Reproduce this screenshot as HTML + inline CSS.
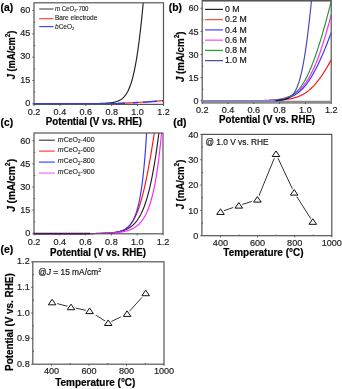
<!DOCTYPE html>
<html><head><meta charset="utf-8"><style>
html,body{margin:0;padding:0;background:#fff;}
svg{display:block;font-family:"Liberation Sans", sans-serif;filter:blur(0.3px);}
</style></head><body>
<svg width="342" height="389" viewBox="0 0 342 389" xmlns="http://www.w3.org/2000/svg">
<rect width="342" height="389" fill="#fff"/>
<path d="M100.00,103.50 L100.03,103.38 L100.27,103.38 L100.51,103.37 L100.75,103.37 L100.99,103.36 L101.23,103.36 L101.47,103.35 L101.71,103.35 L101.95,103.34 L102.19,103.33 L102.43,103.33 L102.67,103.32 L102.91,103.31 L103.15,103.30 L103.39,103.30 L103.63,103.29 L103.87,103.28 L104.11,103.27 L104.35,103.26 L104.59,103.25 L104.83,103.24 L105.07,103.23 L105.31,103.22 L105.55,103.21 L105.79,103.19 L106.03,103.18 L106.27,103.17 L106.51,103.15 L106.75,103.14 L106.99,103.12 L107.23,103.11 L107.47,103.09 L107.71,103.07 L107.95,103.06 L108.19,103.04 L108.43,103.02 L108.67,103.00 L108.91,102.98 L109.15,102.96 L109.39,102.93 L109.63,102.91 L109.87,102.89 L110.11,102.86 L110.35,102.83 L110.59,102.81 L110.83,102.78 L111.07,102.75 L111.31,102.72 L111.55,102.68 L111.79,102.65 L112.03,102.61 L112.27,102.58 L112.51,102.54 L112.75,102.50 L112.99,102.46 L113.23,102.41 L113.48,102.37 L113.72,102.32 L113.96,102.27 L114.20,102.22 L114.44,102.17 L114.68,102.11 L114.92,102.05 L115.16,101.99 L115.41,101.93 L115.65,101.87 L115.89,101.80 L116.13,101.73 L116.37,101.65 L116.62,101.58 L116.86,101.50 L117.10,101.41 L117.34,101.32 L117.58,101.23 L117.83,101.14 L118.07,101.04 L118.31,100.94 L118.56,100.83 L118.80,100.72 L119.04,100.61 L119.29,100.49 L119.53,100.36 L119.77,100.23 L120.02,100.09 L120.26,99.95 L120.51,99.80 L120.75,99.65 L121.00,99.49 L121.24,99.32 L121.49,99.15 L121.73,98.97 L121.98,98.78 L122.23,98.58 L122.47,98.38 L122.72,98.16 L122.97,97.94 L123.21,97.71 L123.46,97.47 L123.71,97.22 L123.96,96.95 L124.21,96.68 L124.46,96.40 L124.70,96.10 L124.95,95.79 L125.21,95.47 L125.46,95.14 L125.71,94.79 L125.96,94.43 L126.21,94.05 L126.46,93.66 L126.72,93.25 L126.97,92.82 L127.23,92.38 L127.48,91.91 L127.74,91.43 L127.99,90.93 L128.25,90.40 L128.51,89.86 L128.77,89.29 L129.03,88.70 L129.29,88.08 L129.55,87.44 L129.81,86.77 L130.08,86.08 L130.34,85.35 L130.61,84.59 L130.87,83.81 L131.14,82.99 L131.41,82.13 L131.68,81.24 L131.95,80.32 L132.22,79.35 L132.50,78.35 L132.77,77.30 L133.05,76.21 L133.33,75.07 L133.61,73.89 L133.89,72.65 L134.17,71.37 L134.46,70.03 L134.75,68.64 L135.03,67.19 L135.33,65.67 L135.62,64.10 L135.92,62.46 L136.21,60.75 L136.51,58.97 L136.82,57.11 L137.12,55.18 L137.43,53.17 L137.74,51.07 L138.06,48.89 L138.37,46.62 L138.70,44.25 L139.02,41.78 L139.35,39.21 L139.68,36.53 L140.01,33.75 L140.35,30.84 L140.70,27.82 L141.04,24.66 L141.40,21.38 L141.75,17.96 L142.11,14.40 L142.48,10.69 L142.85,6.83 L143.23,2.80" fill="none" stroke="#222" stroke-width="1.15" stroke-linejoin="round" />
<path d="M118.00,103.40 L130.00,102.90 L145.00,102.00 L163.50,100.60" fill="none" stroke="#f22" stroke-width="1.20" stroke-linejoin="round" />
<path d="M34.00,103.60 L118.00,103.50 L130.00,103.00 L145.00,102.10 L163.50,100.80" fill="none" stroke="#33f" stroke-width="1.40" stroke-linejoin="round" stroke-dasharray="91,8,5,5,14,5"/>
<rect x="34.00" y="2.80" width="129.50" height="101.60" fill="none" stroke="#555" stroke-width="1.20"/>
<line x1="32.40" y1="103.80" x2="34.00" y2="103.80" stroke="#555" stroke-width="1"/>
<text x="30.40" y="106.00" font-size="9.65" text-anchor="end" font-weight="normal" fill="#222" stroke="#222" stroke-width="0.18" textLength="5.06" lengthAdjust="spacingAndGlyphs">0</text>
<line x1="32.40" y1="80.47" x2="34.00" y2="80.47" stroke="#555" stroke-width="1"/>
<text x="30.40" y="82.67" font-size="9.65" text-anchor="end" font-weight="normal" fill="#222" stroke="#222" stroke-width="0.18" textLength="10.12" lengthAdjust="spacingAndGlyphs">15</text>
<line x1="32.40" y1="57.15" x2="34.00" y2="57.15" stroke="#555" stroke-width="1"/>
<text x="30.40" y="59.35" font-size="9.65" text-anchor="end" font-weight="normal" fill="#222" stroke="#222" stroke-width="0.18" textLength="10.12" lengthAdjust="spacingAndGlyphs">30</text>
<line x1="32.40" y1="33.83" x2="34.00" y2="33.83" stroke="#555" stroke-width="1"/>
<text x="30.40" y="36.03" font-size="9.65" text-anchor="end" font-weight="normal" fill="#222" stroke="#222" stroke-width="0.18" textLength="10.12" lengthAdjust="spacingAndGlyphs">45</text>
<line x1="32.40" y1="10.50" x2="34.00" y2="10.50" stroke="#555" stroke-width="1"/>
<text x="30.40" y="12.70" font-size="9.65" text-anchor="end" font-weight="normal" fill="#222" stroke="#222" stroke-width="0.18" textLength="10.12" lengthAdjust="spacingAndGlyphs">60</text>
<line x1="34.00" y1="92.14" x2="35.20" y2="92.14" stroke="#555" stroke-width="1"/>
<line x1="34.00" y1="68.81" x2="35.20" y2="68.81" stroke="#555" stroke-width="1"/>
<line x1="34.00" y1="45.49" x2="35.20" y2="45.49" stroke="#555" stroke-width="1"/>
<line x1="34.00" y1="22.16" x2="35.20" y2="22.16" stroke="#555" stroke-width="1"/>
<line x1="34.00" y1="104.40" x2="34.00" y2="106.00" stroke="#555" stroke-width="1"/>
<text x="34.00" y="115.15" font-size="9.65" text-anchor="middle" font-weight="normal" fill="#222" stroke="#222" stroke-width="0.18" textLength="12.65" lengthAdjust="spacingAndGlyphs">0.2</text>
<line x1="59.90" y1="104.40" x2="59.90" y2="106.00" stroke="#555" stroke-width="1"/>
<text x="59.90" y="115.15" font-size="9.65" text-anchor="middle" font-weight="normal" fill="#222" stroke="#222" stroke-width="0.18" textLength="12.65" lengthAdjust="spacingAndGlyphs">0.4</text>
<line x1="85.80" y1="104.40" x2="85.80" y2="106.00" stroke="#555" stroke-width="1"/>
<text x="85.80" y="115.15" font-size="9.65" text-anchor="middle" font-weight="normal" fill="#222" stroke="#222" stroke-width="0.18" textLength="12.65" lengthAdjust="spacingAndGlyphs">0.6</text>
<line x1="111.70" y1="104.40" x2="111.70" y2="106.00" stroke="#555" stroke-width="1"/>
<text x="111.70" y="115.15" font-size="9.65" text-anchor="middle" font-weight="normal" fill="#222" stroke="#222" stroke-width="0.18" textLength="12.65" lengthAdjust="spacingAndGlyphs">0.8</text>
<line x1="137.60" y1="104.40" x2="137.60" y2="106.00" stroke="#555" stroke-width="1"/>
<text x="137.60" y="115.15" font-size="9.65" text-anchor="middle" font-weight="normal" fill="#222" stroke="#222" stroke-width="0.18" textLength="12.65" lengthAdjust="spacingAndGlyphs">1.0</text>
<line x1="163.50" y1="104.40" x2="163.50" y2="106.00" stroke="#555" stroke-width="1"/>
<text x="163.50" y="115.15" font-size="9.65" text-anchor="middle" font-weight="normal" fill="#222" stroke="#222" stroke-width="0.18" textLength="12.65" lengthAdjust="spacingAndGlyphs">1.2</text>
<line x1="39.2" y1="9.0" x2="53.5" y2="9.0" stroke="#555" stroke-width="1.2"/>
<line x1="39.2" y1="18.7" x2="53.5" y2="18.7" stroke="#f44" stroke-width="1.2"/>
<line x1="39.2" y1="26.6" x2="53.5" y2="26.6" stroke="#44f" stroke-width="1.2"/>
<text x="55.00" y="10.90" font-size="6.50" text-anchor="start" font-weight="normal" fill="#222" stroke="#222" stroke-width="0.12" textLength="33.5" lengthAdjust="spacingAndGlyphs"><tspan font-style="italic">m</tspan> CeO<tspan dy="1.5" font-size="4.2">2</tspan><tspan dy="-1.5">-700</tspan></text>
<text x="55.00" y="20.40" font-size="6.50" text-anchor="start" font-weight="normal" fill="#222" stroke="#222" stroke-width="0.12">Bare electrode</text>
<text x="55.00" y="28.80" font-size="6.50" text-anchor="start" font-weight="normal" fill="#222" stroke="#222" stroke-width="0.12"><tspan font-style="italic">b</tspan>CeO<tspan dy="1.5" font-size="4.2">2</tspan></text>
<text transform="translate(14.50,79.20) rotate(-90)" x="0" y="0" font-size="10.00" font-weight="bold" fill="#000" stroke="#000" stroke-width="0.2" textLength="48.7" lengthAdjust="spacingAndGlyphs"><tspan font-style="italic">J</tspan><tspan dx="2.6">(mA/cm</tspan><tspan dy="-4.6" font-size="6.8">2</tspan><tspan dy="4.6">)</tspan></text>
<text x="45.80" y="124.60" font-size="10.00" font-weight="bold" fill="#000" stroke="#000" stroke-width="0.2" textLength="96.3" lengthAdjust="spacingAndGlyphs">Potential (V vs. RHE)</text>
<text x="0.60" y="10.50" font-size="10.30" text-anchor="start" font-weight="bold" fill="#000" stroke="#000" stroke-width="0.2">(a)</text>
<path d="M202.20,100.80 L249.44,100.77 L249.83,100.77 L250.22,100.77 L250.62,100.77 L251.01,100.76 L251.40,100.76 L251.79,100.76 L252.19,100.76 L252.58,100.76 L252.97,100.76 L253.36,100.75 L253.76,100.75 L254.15,100.75 L254.54,100.75 L254.93,100.75 L255.33,100.74 L255.72,100.74 L256.11,100.74 L256.51,100.74 L256.90,100.73 L257.29,100.73 L257.68,100.73 L258.08,100.73 L258.47,100.72 L258.86,100.72 L259.26,100.72 L259.65,100.71 L260.04,100.71 L260.44,100.71 L260.83,100.70 L261.22,100.70 L261.62,100.69 L262.01,100.69 L262.40,100.68 L262.80,100.68 L263.19,100.68 L263.58,100.67 L263.98,100.66 L264.37,100.66 L264.76,100.65 L265.16,100.65 L265.55,100.64 L265.95,100.63 L266.34,100.63 L266.74,100.62 L267.13,100.61 L267.52,100.60 L267.92,100.60 L268.31,100.59 L268.71,100.58 L269.10,100.57 L269.50,100.56 L269.89,100.55 L270.29,100.54 L270.68,100.53 L271.08,100.52 L271.47,100.51 L271.87,100.49 L272.27,100.48 L272.66,100.47 L273.06,100.45 L273.45,100.44 L273.85,100.42 L274.25,100.41 L274.65,100.39 L275.04,100.38 L275.44,100.36 L275.84,100.34 L276.24,100.32 L276.63,100.30 L277.03,100.28 L277.43,100.26 L277.83,100.24 L278.23,100.21 L278.63,100.19 L279.03,100.16 L279.43,100.13 L279.83,100.11 L280.23,100.08 L280.63,100.05 L281.03,100.02 L281.43,99.98 L281.84,99.95 L282.24,99.92 L282.64,99.88 L283.05,99.84 L283.45,99.80 L283.85,99.76 L284.26,99.72 L284.66,99.67 L285.07,99.62 L285.48,99.57 L285.89,99.52 L286.29,99.47 L286.70,99.41 L287.11,99.36 L287.52,99.30 L287.93,99.23 L288.34,99.17 L288.76,99.10 L289.17,99.03 L289.58,98.96 L290.00,98.88 L290.42,98.80 L290.83,98.72 L291.25,98.63 L291.67,98.54 L292.09,98.45 L292.51,98.35 L292.94,98.25 L293.36,98.14 L293.78,98.03 L294.21,97.91 L294.64,97.79 L295.07,97.67 L295.50,97.54 L295.93,97.40 L296.37,97.26 L296.81,97.11 L297.24,96.96 L297.68,96.80 L298.13,96.63 L298.57,96.46 L299.02,96.28 L299.47,96.09 L299.92,95.90 L300.37,95.69 L300.83,95.48 L301.29,95.26 L301.75,95.03 L302.21,94.79 L302.68,94.54 L303.15,94.28 L303.62,94.01 L304.10,93.72 L304.58,93.43 L305.07,93.12 L305.55,92.80 L306.05,92.47 L306.54,92.12 L307.04,91.76 L307.55,91.38 L308.06,90.99 L308.57,90.58 L309.09,90.16 L309.62,89.72 L310.15,89.26 L310.69,88.77 L311.23,88.27 L311.78,87.75 L312.34,87.21 L312.90,86.64 L313.47,86.06 L314.05,85.44 L314.63,84.80 L315.22,84.14 L315.82,83.44 L316.43,82.72 L317.05,81.97 L317.68,81.19 L318.32,80.37 L318.97,79.52 L319.63,78.63 L320.30,77.71 L320.98,76.75 L321.67,75.75 L322.38,74.71 L323.10,73.62 L323.83,72.49 L324.58,71.31 L325.34,70.08 L326.12,68.81 L326.91,67.47 L327.72,66.09 L328.55,64.64 L329.39,63.14 L330.26,61.57 L331.14,59.94 L331.20,59.83" fill="none" stroke="#f11" stroke-width="1.15" stroke-linejoin="round" />
<path d="M202.20,100.80 L247.69,100.77 L248.05,100.77 L248.40,100.77 L248.75,100.77 L249.11,100.76 L249.46,100.76 L249.81,100.76 L250.17,100.76 L250.52,100.76 L250.88,100.76 L251.23,100.75 L251.58,100.75 L251.94,100.75 L252.29,100.75 L252.64,100.75 L253.00,100.74 L253.35,100.74 L253.71,100.74 L254.06,100.74 L254.41,100.73 L254.77,100.73 L255.12,100.73 L255.48,100.73 L255.83,100.72 L256.18,100.72 L256.54,100.72 L256.89,100.71 L257.25,100.71 L257.60,100.71 L257.96,100.70 L258.31,100.70 L258.66,100.69 L259.02,100.69 L259.37,100.68 L259.73,100.68 L260.08,100.68 L260.44,100.67 L260.79,100.66 L261.15,100.66 L261.50,100.65 L261.86,100.65 L262.21,100.64 L262.57,100.63 L262.92,100.63 L263.28,100.62 L263.63,100.61 L263.99,100.60 L264.34,100.60 L264.70,100.59 L265.05,100.58 L265.41,100.57 L265.76,100.56 L266.12,100.55 L266.48,100.54 L266.83,100.53 L267.19,100.52 L267.54,100.51 L267.90,100.49 L268.26,100.48 L268.61,100.47 L268.97,100.45 L269.33,100.44 L269.68,100.42 L270.04,100.41 L270.40,100.39 L270.76,100.38 L271.11,100.36 L271.47,100.34 L271.83,100.32 L272.19,100.30 L272.55,100.28 L272.90,100.26 L273.26,100.24 L273.62,100.21 L273.98,100.19 L274.34,100.16 L274.70,100.13 L275.06,100.11 L275.42,100.08 L275.78,100.05 L276.14,100.02 L276.50,99.98 L276.87,99.95 L277.23,99.92 L277.59,99.88 L277.95,99.84 L278.32,99.80 L278.68,99.76 L279.04,99.72 L279.41,99.67 L279.77,99.62 L280.14,99.57 L280.50,99.52 L280.87,99.47 L281.24,99.41 L281.60,99.36 L281.97,99.30 L282.34,99.23 L282.71,99.17 L283.08,99.10 L283.45,99.03 L283.82,98.96 L284.19,98.88 L284.57,98.80 L284.94,98.72 L285.31,98.63 L285.69,98.54 L286.07,98.45 L286.44,98.35 L286.82,98.25 L287.20,98.14 L287.58,98.03 L287.96,97.91 L288.34,97.79 L288.73,97.67 L289.11,97.54 L289.50,97.40 L289.89,97.26 L290.28,97.11 L290.67,96.96 L291.06,96.80 L291.45,96.63 L291.85,96.46 L292.24,96.28 L292.64,96.09 L293.04,95.90 L293.45,95.69 L293.85,95.48 L294.26,95.26 L294.67,95.03 L295.08,94.79 L295.49,94.54 L295.91,94.28 L296.33,94.01 L296.75,93.72 L297.18,93.43 L297.60,93.12 L298.04,92.80 L298.47,92.47 L298.91,92.12 L299.35,91.76 L299.79,91.38 L300.24,90.99 L300.69,90.58 L301.15,90.16 L301.61,89.72 L302.08,89.26 L302.55,88.77 L303.02,88.27 L303.50,87.75 L303.98,87.21 L304.48,86.64 L304.97,86.06 L305.47,85.44 L305.98,84.80 L306.50,84.14 L307.02,83.44 L307.55,82.72 L308.08,81.97 L308.63,81.19 L309.18,80.37 L309.74,79.52 L310.30,78.63 L310.88,77.71 L311.47,76.75 L312.06,75.75 L312.67,74.71 L313.29,73.62 L313.91,72.49 L314.55,71.31 L315.20,70.08 L315.87,68.81 L316.54,67.47 L317.23,66.09 L317.94,64.64 L318.66,63.14 L319.39,61.57 L320.14,59.94 L320.90,58.24 L321.69,56.47 L322.49,54.62 L323.31,52.70 L324.15,50.70 L325.00,48.61 L325.88,46.44 L326.79,44.18 L327.71,41.82 L328.66,39.37 L329.63,36.81 L330.63,34.15 L331.20,32.61" fill="none" stroke="#33f" stroke-width="1.15" stroke-linejoin="round" />
<path d="M202.20,100.80 L238.62,100.77 L239.03,100.77 L239.44,100.77 L239.85,100.77 L240.26,100.76 L240.67,100.76 L241.09,100.76 L241.50,100.76 L241.91,100.76 L242.32,100.76 L242.73,100.75 L243.14,100.75 L243.56,100.75 L243.97,100.75 L244.38,100.75 L244.79,100.74 L245.20,100.74 L245.61,100.74 L246.03,100.74 L246.44,100.73 L246.85,100.73 L247.26,100.73 L247.67,100.73 L248.09,100.72 L248.50,100.72 L248.91,100.72 L249.32,100.71 L249.73,100.71 L250.14,100.71 L250.56,100.70 L250.97,100.70 L251.38,100.69 L251.79,100.69 L252.20,100.68 L252.62,100.68 L253.03,100.68 L253.44,100.67 L253.85,100.66 L254.27,100.66 L254.68,100.65 L255.09,100.65 L255.50,100.64 L255.91,100.63 L256.33,100.63 L256.74,100.62 L257.15,100.61 L257.56,100.60 L257.98,100.60 L258.39,100.59 L258.80,100.58 L259.22,100.57 L259.63,100.56 L260.04,100.55 L260.45,100.54 L260.87,100.53 L261.28,100.52 L261.69,100.51 L262.11,100.49 L262.52,100.48 L262.93,100.47 L263.35,100.45 L263.76,100.44 L264.17,100.42 L264.59,100.41 L265.00,100.39 L265.41,100.38 L265.83,100.36 L266.24,100.34 L266.66,100.32 L267.07,100.30 L267.49,100.28 L267.90,100.26 L268.31,100.24 L268.73,100.21 L269.14,100.19 L269.56,100.16 L269.97,100.13 L270.39,100.11 L270.81,100.08 L271.22,100.05 L271.64,100.02 L272.05,99.98 L272.47,99.95 L272.89,99.92 L273.30,99.88 L273.72,99.84 L274.14,99.80 L274.55,99.76 L274.97,99.72 L275.39,99.67 L275.81,99.62 L276.23,99.57 L276.64,99.52 L277.06,99.47 L277.48,99.41 L277.90,99.36 L278.32,99.30 L278.74,99.23 L279.16,99.17 L279.58,99.10 L280.01,99.03 L280.43,98.96 L280.85,98.88 L281.27,98.80 L281.70,98.72 L282.12,98.63 L282.54,98.54 L282.97,98.45 L283.39,98.35 L283.82,98.25 L284.25,98.14 L284.67,98.03 L285.10,97.91 L285.53,97.79 L285.96,97.67 L286.39,97.54 L286.82,97.40 L287.25,97.26 L287.68,97.11 L288.12,96.96 L288.55,96.80 L288.99,96.63 L289.42,96.46 L289.86,96.28 L290.30,96.09 L290.74,95.90 L291.18,95.69 L291.62,95.48 L292.06,95.26 L292.51,95.03 L292.95,94.79 L293.40,94.54 L293.85,94.28 L294.30,94.01 L294.75,93.72 L295.20,93.43 L295.66,93.12 L296.11,92.80 L296.57,92.47 L297.03,92.12 L297.50,91.76 L297.96,91.38 L298.43,90.99 L298.90,90.58 L299.37,90.16 L299.85,89.72 L300.32,89.26 L300.80,88.77 L301.28,88.27 L301.77,87.75 L302.26,87.21 L302.75,86.64 L303.25,86.06 L303.75,85.44 L304.25,84.80 L304.75,84.14 L305.26,83.44 L305.78,82.72 L306.30,81.97 L306.82,81.19 L307.35,80.37 L307.88,79.52 L308.42,78.63 L308.96,77.71 L309.51,76.75 L310.06,75.75 L310.62,74.71 L311.19,73.62 L311.76,72.49 L312.34,71.31 L312.93,70.08 L313.52,68.81 L314.12,67.47 L314.73,66.09 L315.35,64.64 L315.97,63.14 L316.61,61.57 L317.25,59.94 L317.90,58.24 L318.57,56.47 L319.24,54.62 L319.93,52.70 L320.62,50.70 L321.33,48.61 L322.05,46.44 L322.78,44.18 L323.53,41.82 L324.29,39.37 L325.07,36.81 L325.86,34.15 L326.66,31.38 L327.49,28.49 L328.33,25.48 L329.18,22.34 L330.06,19.08 L330.95,15.68 L331.20,14.73" fill="none" stroke="#f2f" stroke-width="1.15" stroke-linejoin="round" />
<path d="M202.20,100.80 L249.55,100.77 L249.87,100.77 L250.20,100.77 L250.52,100.77 L250.85,100.76 L251.17,100.76 L251.50,100.76 L251.82,100.76 L252.14,100.76 L252.47,100.76 L252.79,100.75 L253.12,100.75 L253.44,100.75 L253.77,100.75 L254.09,100.75 L254.42,100.74 L254.74,100.74 L255.06,100.74 L255.39,100.74 L255.71,100.73 L256.04,100.73 L256.36,100.73 L256.69,100.73 L257.01,100.72 L257.34,100.72 L257.66,100.72 L257.99,100.71 L258.31,100.71 L258.64,100.71 L258.96,100.70 L259.28,100.70 L259.61,100.69 L259.93,100.69 L260.26,100.68 L260.58,100.68 L260.91,100.68 L261.23,100.67 L261.56,100.66 L261.88,100.66 L262.21,100.65 L262.53,100.65 L262.86,100.64 L263.18,100.63 L263.51,100.63 L263.83,100.62 L264.16,100.61 L264.49,100.60 L264.81,100.60 L265.14,100.59 L265.46,100.58 L265.79,100.57 L266.11,100.56 L266.44,100.55 L266.77,100.54 L267.09,100.53 L267.42,100.52 L267.74,100.51 L268.07,100.49 L268.40,100.48 L268.72,100.47 L269.05,100.45 L269.38,100.44 L269.70,100.42 L270.03,100.41 L270.36,100.39 L270.68,100.38 L271.01,100.36 L271.34,100.34 L271.66,100.32 L271.99,100.30 L272.32,100.28 L272.65,100.26 L272.98,100.24 L273.30,100.21 L273.63,100.19 L273.96,100.16 L274.29,100.13 L274.62,100.11 L274.95,100.08 L275.28,100.05 L275.61,100.02 L275.94,99.98 L276.26,99.95 L276.60,99.92 L276.93,99.88 L277.26,99.84 L277.59,99.80 L277.92,99.76 L278.25,99.72 L278.58,99.67 L278.91,99.62 L279.25,99.57 L279.58,99.52 L279.91,99.47 L280.25,99.41 L280.58,99.36 L280.92,99.30 L281.25,99.23 L281.59,99.17 L281.92,99.10 L282.26,99.03 L282.59,98.96 L282.93,98.88 L283.27,98.80 L283.61,98.72 L283.95,98.63 L284.29,98.54 L284.63,98.45 L284.97,98.35 L285.31,98.25 L285.65,98.14 L286.00,98.03 L286.34,97.91 L286.68,97.79 L287.03,97.67 L287.38,97.54 L287.72,97.40 L288.07,97.26 L288.42,97.11 L288.77,96.96 L289.12,96.80 L289.48,96.63 L289.83,96.46 L290.19,96.28 L290.54,96.09 L290.90,95.90 L291.26,95.69 L291.62,95.48 L291.98,95.26 L292.35,95.03 L292.71,94.79 L293.08,94.54 L293.45,94.28 L293.82,94.01 L294.19,93.72 L294.57,93.43 L294.95,93.12 L295.33,92.80 L295.71,92.47 L296.09,92.12 L296.48,91.76 L296.87,91.38 L297.26,90.99 L297.65,90.58 L298.05,90.16 L298.45,89.72 L298.86,89.26 L299.26,88.77 L299.68,88.27 L300.09,87.75 L300.51,87.21 L300.93,86.64 L301.36,86.06 L301.79,85.44 L302.22,84.80 L302.66,84.14 L303.10,83.44 L303.55,82.72 L304.01,81.97 L304.47,81.19 L304.93,80.37 L305.40,79.52 L305.88,78.63 L306.37,77.71 L306.86,76.75 L307.35,75.75 L307.86,74.71 L308.37,73.62 L308.89,72.49 L309.42,71.31 L309.96,70.08 L310.50,68.81 L311.06,67.47 L311.62,66.09 L312.19,64.64 L312.78,63.14 L313.37,61.57 L313.98,59.94 L314.60,58.24 L315.23,56.47 L315.87,54.62 L316.53,52.70 L317.20,50.70 L317.89,48.61 L318.59,46.44 L319.30,44.18 L320.04,41.82 L320.79,39.37 L321.55,36.81 L322.34,34.15 L323.14,31.38 L323.97,28.49 L324.81,25.48 L325.68,22.34 L326.57,19.08 L327.48,15.68 L328.42,12.14 L329.38,8.45 L330.37,4.60 L331.20,1.35" fill="none" stroke="#22962a" stroke-width="1.15" stroke-linejoin="round" />
<path d="M202.20,100.80 L265.33,100.77 L265.54,100.77 L265.75,100.77 L265.95,100.77 L266.16,100.76 L266.37,100.76 L266.57,100.76 L266.78,100.76 L266.99,100.76 L267.20,100.76 L267.40,100.75 L267.61,100.75 L267.82,100.75 L268.02,100.75 L268.23,100.75 L268.44,100.74 L268.64,100.74 L268.85,100.74 L269.06,100.74 L269.27,100.73 L269.47,100.73 L269.68,100.73 L269.89,100.73 L270.09,100.72 L270.30,100.72 L270.51,100.72 L270.72,100.71 L270.92,100.71 L271.13,100.71 L271.34,100.70 L271.54,100.70 L271.75,100.69 L271.96,100.69 L272.17,100.68 L272.37,100.68 L272.58,100.68 L272.79,100.67 L273.00,100.66 L273.20,100.66 L273.41,100.65 L273.62,100.65 L273.82,100.64 L274.03,100.63 L274.24,100.63 L274.45,100.62 L274.65,100.61 L274.86,100.60 L275.07,100.60 L275.28,100.59 L275.48,100.58 L275.69,100.57 L275.90,100.56 L276.11,100.55 L276.31,100.54 L276.52,100.53 L276.73,100.52 L276.94,100.51 L277.14,100.49 L277.35,100.48 L277.56,100.47 L277.77,100.45 L277.97,100.44 L278.18,100.42 L278.39,100.41 L278.60,100.39 L278.80,100.38 L279.01,100.36 L279.22,100.34 L279.43,100.32 L279.64,100.30 L279.84,100.28 L280.05,100.26 L280.26,100.24 L280.47,100.21 L280.68,100.19 L280.88,100.16 L281.09,100.13 L281.30,100.11 L281.51,100.08 L281.72,100.05 L281.93,100.02 L282.14,99.98 L282.34,99.95 L282.55,99.92 L282.76,99.88 L282.97,99.84 L283.18,99.80 L283.39,99.76 L283.60,99.72 L283.81,99.67 L284.02,99.62 L284.23,99.57 L284.43,99.52 L284.64,99.47 L284.85,99.41 L285.06,99.36 L285.27,99.30 L285.48,99.23 L285.69,99.17 L285.90,99.10 L286.11,99.03 L286.33,98.96 L286.54,98.88 L286.75,98.80 L286.96,98.72 L287.17,98.63 L287.38,98.54 L287.59,98.45 L287.80,98.35 L288.02,98.25 L288.23,98.14 L288.44,98.03 L288.65,97.91 L288.87,97.79 L289.08,97.67 L289.29,97.54 L289.51,97.40 L289.72,97.26 L289.93,97.11 L290.15,96.96 L290.36,96.80 L290.58,96.63 L290.79,96.46 L291.01,96.28 L291.23,96.09 L291.44,95.90 L291.66,95.69 L291.88,95.48 L292.10,95.26 L292.31,95.03 L292.53,94.79 L292.75,94.54 L292.97,94.28 L293.19,94.01 L293.41,93.72 L293.63,93.43 L293.86,93.12 L294.08,92.80 L294.30,92.47 L294.53,92.12 L294.75,91.76 L294.98,91.38 L295.20,90.99 L295.43,90.58 L295.66,90.16 L295.89,89.72 L296.12,89.26 L296.35,88.77 L296.58,88.27 L296.81,87.75 L297.05,87.21 L297.28,86.64 L297.52,86.06 L297.75,85.44 L297.99,84.80 L298.23,84.14 L298.47,83.44 L298.72,82.72 L298.96,81.97 L299.21,81.19 L299.45,80.37 L299.70,79.52 L299.95,78.63 L300.20,77.71 L300.46,76.75 L300.72,75.75 L300.97,74.71 L301.23,73.62 L301.50,72.49 L301.76,71.31 L302.03,70.08 L302.30,68.81 L302.57,67.47 L302.85,66.09 L303.13,64.64 L303.41,63.14 L303.69,61.57 L303.98,59.94 L304.27,58.24 L304.56,56.47 L304.86,54.62 L305.16,52.70 L305.47,50.70 L305.78,48.61 L306.09,46.44 L306.41,44.18 L306.73,41.82 L307.06,39.37 L307.39,36.81 L307.73,34.15 L308.08,31.38 L308.43,28.49 L308.78,25.48 L309.14,22.34 L309.51,19.08 L309.89,15.68 L310.27,12.14 L310.66,8.45 L311.05,4.60 L311.46,0.60" fill="none" stroke="#4646b4" stroke-width="1.15" stroke-linejoin="round" />
<line x1="202.2" y1="0.8" x2="331.2" y2="0.8" stroke="#6a6a6a" stroke-width="1.6"/>
<rect x="202.20" y="0.60" width="129.00" height="101.80" fill="none" stroke="#555" stroke-width="1.20"/>
<line x1="202.2" y1="102.3" x2="331.8" y2="102.3" stroke="#8a8a8a" stroke-width="3.0"/>
<line x1="202.2" y1="100.6" x2="276.5" y2="100.6" stroke="#8484d4" stroke-width="1.4"/>
<path d="M276.00,100.60 C276.83,100.53 279.33,100.47 281.00,100.20 C282.67,99.93 284.67,99.40 286.00,99.00 C287.33,98.60 288.50,98.00 289.00,97.80" fill="none" stroke="#1a1a50" stroke-width="1.30" stroke-linejoin="round" stroke-linecap="round" />
<line x1="200.60" y1="100.80" x2="202.20" y2="100.80" stroke="#555" stroke-width="1"/>
<text x="198.60" y="104.05" font-size="9.65" text-anchor="end" font-weight="normal" fill="#222" stroke="#222" stroke-width="0.18" textLength="5.06" lengthAdjust="spacingAndGlyphs">0</text>
<line x1="200.60" y1="77.66" x2="202.20" y2="77.66" stroke="#555" stroke-width="1"/>
<text x="198.60" y="80.91" font-size="9.65" text-anchor="end" font-weight="normal" fill="#222" stroke="#222" stroke-width="0.18" textLength="10.12" lengthAdjust="spacingAndGlyphs">15</text>
<line x1="200.60" y1="54.51" x2="202.20" y2="54.51" stroke="#555" stroke-width="1"/>
<text x="198.60" y="57.76" font-size="9.65" text-anchor="end" font-weight="normal" fill="#222" stroke="#222" stroke-width="0.18" textLength="10.12" lengthAdjust="spacingAndGlyphs">30</text>
<line x1="200.60" y1="31.36" x2="202.20" y2="31.36" stroke="#555" stroke-width="1"/>
<text x="198.60" y="34.61" font-size="9.65" text-anchor="end" font-weight="normal" fill="#222" stroke="#222" stroke-width="0.18" textLength="10.12" lengthAdjust="spacingAndGlyphs">45</text>
<line x1="200.60" y1="8.22" x2="202.20" y2="8.22" stroke="#555" stroke-width="1"/>
<text x="198.60" y="11.47" font-size="9.65" text-anchor="end" font-weight="normal" fill="#222" stroke="#222" stroke-width="0.18" textLength="10.12" lengthAdjust="spacingAndGlyphs">60</text>
<line x1="202.20" y1="89.23" x2="203.40" y2="89.23" stroke="#555" stroke-width="1"/>
<line x1="202.20" y1="66.08" x2="203.40" y2="66.08" stroke="#555" stroke-width="1"/>
<line x1="202.20" y1="42.94" x2="203.40" y2="42.94" stroke="#555" stroke-width="1"/>
<line x1="202.20" y1="19.79" x2="203.40" y2="19.79" stroke="#555" stroke-width="1"/>
<line x1="202.20" y1="102.40" x2="202.20" y2="104.00" stroke="#555" stroke-width="1"/>
<text x="202.20" y="113.35" font-size="9.65" text-anchor="middle" font-weight="normal" fill="#222" stroke="#222" stroke-width="0.18" textLength="12.65" lengthAdjust="spacingAndGlyphs">0.2</text>
<line x1="228.00" y1="102.40" x2="228.00" y2="104.00" stroke="#555" stroke-width="1"/>
<text x="228.00" y="113.35" font-size="9.65" text-anchor="middle" font-weight="normal" fill="#222" stroke="#222" stroke-width="0.18" textLength="12.65" lengthAdjust="spacingAndGlyphs">0.4</text>
<line x1="253.80" y1="102.40" x2="253.80" y2="104.00" stroke="#555" stroke-width="1"/>
<text x="253.80" y="113.35" font-size="9.65" text-anchor="middle" font-weight="normal" fill="#222" stroke="#222" stroke-width="0.18" textLength="12.65" lengthAdjust="spacingAndGlyphs">0.6</text>
<line x1="279.60" y1="102.40" x2="279.60" y2="104.00" stroke="#555" stroke-width="1"/>
<text x="279.60" y="113.35" font-size="9.65" text-anchor="middle" font-weight="normal" fill="#222" stroke="#222" stroke-width="0.18" textLength="12.65" lengthAdjust="spacingAndGlyphs">0.8</text>
<line x1="305.40" y1="102.40" x2="305.40" y2="104.00" stroke="#555" stroke-width="1"/>
<text x="305.40" y="113.35" font-size="9.65" text-anchor="middle" font-weight="normal" fill="#222" stroke="#222" stroke-width="0.18" textLength="12.65" lengthAdjust="spacingAndGlyphs">1.0</text>
<line x1="331.20" y1="102.40" x2="331.20" y2="104.00" stroke="#555" stroke-width="1"/>
<text x="331.20" y="113.35" font-size="9.65" text-anchor="middle" font-weight="normal" fill="#222" stroke="#222" stroke-width="0.18" textLength="12.65" lengthAdjust="spacingAndGlyphs">1.2</text>
<line x1="205" y1="9.40" x2="223" y2="9.40" stroke="#222" stroke-width="1.2"/>
<text x="225.00" y="12.10" font-size="8.70" text-anchor="start" font-weight="normal" fill="#111" stroke="#222" stroke-width="0.18">0 M</text>
<line x1="205" y1="19.65" x2="223" y2="19.65" stroke="#f44" stroke-width="1.2"/>
<text x="225.00" y="22.35" font-size="8.70" text-anchor="start" font-weight="normal" fill="#111" stroke="#222" stroke-width="0.18">0.2 M</text>
<line x1="205" y1="29.90" x2="223" y2="29.90" stroke="#44f" stroke-width="1.2"/>
<text x="225.00" y="32.60" font-size="8.70" text-anchor="start" font-weight="normal" fill="#111" stroke="#222" stroke-width="0.18">0.4 M</text>
<line x1="205" y1="40.15" x2="223" y2="40.15" stroke="#f4f" stroke-width="1.2"/>
<text x="225.00" y="42.85" font-size="8.70" text-anchor="start" font-weight="normal" fill="#111" stroke="#222" stroke-width="0.18">0.6 M</text>
<line x1="205" y1="50.40" x2="223" y2="50.40" stroke="#2a2" stroke-width="1.2"/>
<text x="225.00" y="53.10" font-size="8.70" text-anchor="start" font-weight="normal" fill="#111" stroke="#222" stroke-width="0.18">0.8 M</text>
<line x1="205" y1="60.65" x2="223" y2="60.65" stroke="#44a" stroke-width="1.2"/>
<text x="225.00" y="63.35" font-size="8.70" text-anchor="start" font-weight="normal" fill="#111" stroke="#222" stroke-width="0.18">1.0 M</text>
<text transform="translate(183.70,81.90) rotate(-90)" x="0" y="0" font-size="10.00" font-weight="bold" fill="#000" stroke="#000" stroke-width="0.2" textLength="50.5" lengthAdjust="spacingAndGlyphs"><tspan font-style="italic">J</tspan><tspan dx="2.6">(mA/cm</tspan><tspan dy="-4.6" font-size="6.8">2</tspan><tspan dy="4.6">)</tspan></text>
<text x="219.10" y="123.10" font-size="10.00" font-weight="bold" fill="#000" stroke="#000" stroke-width="0.2" textLength="96.0" lengthAdjust="spacingAndGlyphs">Potential (V vs. RHE)</text>
<text x="168.80" y="10.50" font-size="10.30" text-anchor="start" font-weight="bold" fill="#000" stroke="#000" stroke-width="0.2">(b)</text>
<path d="M34.00,233.60 L80.67,233.57 L81.05,233.57 L81.42,233.57 L81.80,233.57 L82.17,233.56 L82.55,233.56 L82.92,233.56 L83.30,233.56 L83.67,233.56 L84.05,233.56 L84.42,233.55 L84.80,233.55 L85.17,233.55 L85.55,233.55 L85.92,233.55 L86.30,233.54 L86.67,233.54 L87.05,233.54 L87.42,233.54 L87.80,233.53 L88.17,233.53 L88.55,233.53 L88.92,233.53 L89.30,233.52 L89.67,233.52 L90.05,233.52 L90.42,233.51 L90.80,233.51 L91.17,233.51 L91.55,233.50 L91.92,233.50 L92.30,233.49 L92.68,233.49 L93.05,233.48 L93.43,233.48 L93.80,233.47 L94.18,233.47 L94.55,233.46 L94.93,233.46 L95.30,233.45 L95.68,233.45 L96.05,233.44 L96.43,233.43 L96.80,233.43 L97.18,233.42 L97.55,233.41 L97.93,233.40 L98.30,233.40 L98.68,233.39 L99.05,233.38 L99.43,233.37 L99.80,233.36 L100.18,233.35 L100.56,233.34 L100.93,233.33 L101.31,233.32 L101.68,233.31 L102.06,233.29 L102.43,233.28 L102.81,233.27 L103.18,233.25 L103.56,233.24 L103.93,233.22 L104.31,233.21 L104.69,233.19 L105.06,233.17 L105.44,233.16 L105.81,233.14 L106.19,233.12 L106.56,233.10 L106.94,233.08 L107.32,233.06 L107.69,233.03 L108.07,233.01 L108.44,232.99 L108.82,232.96 L109.19,232.93 L109.57,232.91 L109.95,232.88 L110.32,232.85 L110.70,232.82 L111.08,232.78 L111.45,232.75 L111.83,232.71 L112.20,232.68 L112.58,232.64 L112.96,232.60 L113.33,232.56 L113.71,232.51 L114.09,232.47 L114.46,232.42 L114.84,232.37 L115.22,232.32 L115.59,232.27 L115.97,232.21 L116.35,232.15 L116.73,232.09 L117.10,232.03 L117.48,231.97 L117.86,231.90 L118.23,231.83 L118.61,231.75 L118.99,231.68 L119.37,231.60 L119.75,231.51 L120.12,231.43 L120.50,231.34 L120.88,231.24 L121.26,231.14 L121.64,231.04 L122.02,230.93 L122.40,230.82 L122.77,230.71 L123.15,230.59 L123.53,230.46 L123.91,230.33 L124.29,230.19 L124.67,230.05 L125.05,229.91 L125.43,229.75 L125.81,229.59 L126.20,229.42 L126.58,229.25 L126.96,229.07 L127.34,228.88 L127.72,228.68 L128.10,228.48 L128.49,228.27 L128.87,228.04 L129.25,227.81 L129.64,227.57 L130.02,227.32 L130.40,227.06 L130.79,226.79 L131.17,226.50 L131.56,226.21 L131.95,225.90 L132.33,225.58 L132.72,225.25 L133.11,224.90 L133.49,224.54 L133.88,224.16 L134.27,223.76 L134.66,223.36 L135.05,222.93 L135.44,222.48 L135.83,222.02 L136.23,221.54 L136.62,221.04 L137.01,220.51 L137.41,219.97 L137.80,219.40 L138.20,218.81 L138.60,218.19 L138.99,217.55 L139.39,216.89 L139.79,216.19 L140.19,215.46 L140.60,214.71 L141.00,213.92 L141.40,213.10 L141.81,212.25 L142.22,211.36 L142.62,210.44 L143.03,209.47 L143.44,208.47 L143.86,207.42 L144.27,206.33 L144.69,205.19 L145.10,204.01 L145.52,202.78 L145.94,201.50 L146.37,200.16 L146.79,198.77 L147.22,197.32 L147.65,195.81 L148.08,194.23 L148.51,192.59 L148.95,190.89 L149.39,189.11 L149.83,187.26 L150.27,185.33 L150.72,183.32 L151.17,181.22 L151.62,179.04 L152.08,176.77 L152.54,174.40 L153.00,171.94 L153.47,169.37 L153.94,166.70 L154.41,163.91 L154.89,161.01 L155.37,157.99 L155.86,154.84 L156.35,151.56 L156.85,148.15 L157.35,144.59 L157.86,140.88 L158.37,137.02 L158.89,133.00" fill="none" stroke="#222" stroke-width="1.15" stroke-linejoin="round" />
<path d="M34.00,233.60 L91.36,233.57 L91.64,233.57 L91.91,233.57 L92.18,233.57 L92.46,233.56 L92.73,233.56 L93.00,233.56 L93.28,233.56 L93.55,233.56 L93.83,233.56 L94.10,233.55 L94.37,233.55 L94.65,233.55 L94.92,233.55 L95.20,233.55 L95.47,233.54 L95.74,233.54 L96.02,233.54 L96.29,233.54 L96.57,233.53 L96.84,233.53 L97.11,233.53 L97.39,233.53 L97.66,233.52 L97.93,233.52 L98.21,233.52 L98.48,233.51 L98.76,233.51 L99.03,233.51 L99.30,233.50 L99.58,233.50 L99.85,233.49 L100.13,233.49 L100.40,233.48 L100.68,233.48 L100.95,233.47 L101.22,233.47 L101.50,233.46 L101.77,233.46 L102.05,233.45 L102.32,233.45 L102.59,233.44 L102.87,233.43 L103.14,233.43 L103.42,233.42 L103.69,233.41 L103.97,233.40 L104.24,233.40 L104.51,233.39 L104.79,233.38 L105.06,233.37 L105.34,233.36 L105.61,233.35 L105.89,233.34 L106.16,233.33 L106.44,233.32 L106.71,233.31 L106.99,233.29 L107.26,233.28 L107.54,233.27 L107.81,233.25 L108.09,233.24 L108.36,233.22 L108.64,233.21 L108.91,233.19 L109.19,233.17 L109.46,233.16 L109.74,233.14 L110.01,233.12 L110.29,233.10 L110.56,233.08 L110.84,233.06 L111.11,233.03 L111.39,233.01 L111.66,232.99 L111.94,232.96 L112.22,232.93 L112.49,232.91 L112.77,232.88 L113.04,232.85 L113.32,232.82 L113.60,232.78 L113.87,232.75 L114.15,232.71 L114.43,232.68 L114.70,232.64 L114.98,232.60 L115.26,232.56 L115.54,232.51 L115.81,232.47 L116.09,232.42 L116.37,232.37 L116.65,232.32 L116.93,232.27 L117.20,232.21 L117.48,232.15 L117.76,232.09 L118.04,232.03 L118.32,231.97 L118.60,231.90 L118.88,231.83 L119.16,231.75 L119.44,231.68 L119.72,231.60 L120.00,231.51 L120.28,231.43 L120.56,231.34 L120.84,231.24 L121.13,231.14 L121.41,231.04 L121.69,230.93 L121.97,230.82 L122.26,230.71 L122.54,230.59 L122.82,230.46 L123.11,230.33 L123.39,230.19 L123.68,230.05 L123.97,229.91 L124.25,229.75 L124.54,229.59 L124.83,229.42 L125.12,229.25 L125.40,229.07 L125.69,228.88 L125.98,228.68 L126.28,228.48 L126.57,228.27 L126.86,228.04 L127.15,227.81 L127.45,227.57 L127.74,227.32 L128.04,227.06 L128.33,226.79 L128.63,226.50 L128.93,226.21 L129.23,225.90 L129.53,225.58 L129.83,225.25 L130.14,224.90 L130.44,224.54 L130.74,224.16 L131.05,223.76 L131.36,223.36 L131.67,222.93 L131.98,222.48 L132.29,222.02 L132.61,221.54 L132.92,221.04 L133.24,220.51 L133.56,219.97 L133.88,219.40 L134.21,218.81 L134.53,218.19 L134.86,217.55 L135.19,216.89 L135.52,216.19 L135.86,215.46 L136.19,214.71 L136.53,213.92 L136.87,213.10 L137.22,212.25 L137.57,211.36 L137.92,210.44 L138.28,209.47 L138.63,208.47 L139.00,207.42 L139.36,206.33 L139.73,205.19 L140.10,204.01 L140.48,202.78 L140.86,201.50 L141.25,200.16 L141.64,198.77 L142.03,197.32 L142.44,195.81 L142.84,194.23 L143.25,192.59 L143.67,190.89 L144.09,189.11 L144.52,187.26 L144.96,185.33 L145.40,183.32 L145.85,181.22 L146.31,179.04 L146.77,176.77 L147.25,174.40 L147.73,171.94 L148.22,169.37 L148.72,166.70 L149.22,163.91 L149.74,161.01 L150.27,157.99 L150.81,154.84 L151.36,151.56 L151.92,148.15 L152.49,144.59 L153.08,140.88 L153.68,137.02 L154.29,133.00" fill="none" stroke="#f11" stroke-width="1.15" stroke-linejoin="round" />
<path d="M34.00,233.60 L88.99,233.57 L89.29,233.57 L89.58,233.57 L89.88,233.57 L90.17,233.56 L90.47,233.56 L90.77,233.56 L91.06,233.56 L91.36,233.56 L91.65,233.56 L91.95,233.55 L92.24,233.55 L92.54,233.55 L92.84,233.55 L93.13,233.55 L93.43,233.54 L93.72,233.54 L94.02,233.54 L94.32,233.54 L94.61,233.53 L94.91,233.53 L95.20,233.53 L95.50,233.53 L95.79,233.52 L96.09,233.52 L96.39,233.52 L96.68,233.51 L96.98,233.51 L97.27,233.51 L97.57,233.50 L97.87,233.50 L98.16,233.49 L98.46,233.49 L98.75,233.48 L99.05,233.48 L99.34,233.47 L99.64,233.47 L99.94,233.46 L100.23,233.46 L100.53,233.45 L100.82,233.45 L101.12,233.44 L101.41,233.43 L101.71,233.43 L102.01,233.42 L102.30,233.41 L102.60,233.40 L102.89,233.40 L103.19,233.39 L103.49,233.38 L103.78,233.37 L104.08,233.36 L104.37,233.35 L104.67,233.34 L104.96,233.33 L105.26,233.32 L105.56,233.31 L105.85,233.29 L106.15,233.28 L106.44,233.27 L106.74,233.25 L107.03,233.24 L107.33,233.22 L107.63,233.21 L107.92,233.19 L108.22,233.17 L108.51,233.16 L108.81,233.14 L109.10,233.12 L109.40,233.10 L109.69,233.08 L109.99,233.06 L110.29,233.03 L110.58,233.01 L110.88,232.99 L111.17,232.96 L111.47,232.93 L111.76,232.91 L112.06,232.88 L112.35,232.85 L112.65,232.82 L112.95,232.78 L113.24,232.75 L113.54,232.71 L113.83,232.68 L114.13,232.64 L114.42,232.60 L114.72,232.56 L115.01,232.51 L115.31,232.47 L115.60,232.42 L115.90,232.37 L116.19,232.32 L116.49,232.27 L116.78,232.21 L117.08,232.15 L117.37,232.09 L117.67,232.03 L117.96,231.97 L118.26,231.90 L118.55,231.83 L118.85,231.75 L119.14,231.68 L119.44,231.60 L119.73,231.51 L120.03,231.43 L120.32,231.34 L120.62,231.24 L120.91,231.14 L121.21,231.04 L121.50,230.93 L121.80,230.82 L122.09,230.71 L122.38,230.59 L122.68,230.46 L122.97,230.33 L123.27,230.19 L123.56,230.05 L123.85,229.91 L124.15,229.75 L124.44,229.59 L124.74,229.42 L125.03,229.25 L125.32,229.07 L125.62,228.88 L125.91,228.68 L126.20,228.48 L126.50,228.27 L126.79,228.04 L127.08,227.81 L127.37,227.57 L127.67,227.32 L127.96,227.06 L128.25,226.79 L128.54,226.50 L128.84,226.21 L129.13,225.90 L129.42,225.58 L129.71,225.25 L130.00,224.90 L130.29,224.54 L130.58,224.16 L130.88,223.76 L131.17,223.36 L131.46,222.93 L131.75,222.48 L132.04,222.02 L132.33,221.54 L132.62,221.04 L132.90,220.51 L133.19,219.97 L133.48,219.40 L133.77,218.81 L134.06,218.19 L134.35,217.55 L134.63,216.89 L134.92,216.19 L135.21,215.46 L135.49,214.71 L135.78,213.92 L136.06,213.10 L136.35,212.25 L136.63,211.36 L136.92,210.44 L137.20,209.47 L137.48,208.47 L137.76,207.42 L138.05,206.33 L138.33,205.19 L138.61,204.01 L138.89,202.78 L139.17,201.50 L139.45,200.16 L139.72,198.77 L140.00,197.32 L140.28,195.81 L140.55,194.23 L140.83,192.59 L141.10,190.89 L141.37,189.11 L141.65,187.26 L141.92,185.33 L142.19,183.32 L142.46,181.22 L142.72,179.04 L142.99,176.77 L143.26,174.40 L143.52,171.94 L143.78,169.37 L144.04,166.70 L144.30,163.91 L144.56,161.01 L144.82,157.99 L145.07,154.84 L145.33,151.56 L145.58,148.15 L145.83,144.59 L146.08,140.88 L146.32,137.02 L146.57,133.00" fill="none" stroke="#33f" stroke-width="1.15" stroke-linejoin="round" />
<path d="M34.00,233.60 L82.82,233.57 L83.22,233.57 L83.62,233.57 L84.01,233.57 L84.41,233.56 L84.81,233.56 L85.21,233.56 L85.61,233.56 L86.01,233.56 L86.41,233.56 L86.80,233.55 L87.20,233.55 L87.60,233.55 L88.00,233.55 L88.40,233.55 L88.80,233.54 L89.20,233.54 L89.59,233.54 L89.99,233.54 L90.39,233.53 L90.79,233.53 L91.19,233.53 L91.59,233.53 L91.99,233.52 L92.38,233.52 L92.78,233.52 L93.18,233.51 L93.58,233.51 L93.98,233.51 L94.38,233.50 L94.77,233.50 L95.17,233.49 L95.57,233.49 L95.97,233.48 L96.37,233.48 L96.77,233.47 L97.17,233.47 L97.56,233.46 L97.96,233.46 L98.36,233.45 L98.76,233.45 L99.16,233.44 L99.56,233.43 L99.96,233.43 L100.35,233.42 L100.75,233.41 L101.15,233.40 L101.55,233.40 L101.95,233.39 L102.35,233.38 L102.74,233.37 L103.14,233.36 L103.54,233.35 L103.94,233.34 L104.34,233.33 L104.74,233.32 L105.14,233.31 L105.53,233.29 L105.93,233.28 L106.33,233.27 L106.73,233.25 L107.13,233.24 L107.53,233.22 L107.92,233.21 L108.32,233.19 L108.72,233.17 L109.12,233.16 L109.52,233.14 L109.92,233.12 L110.31,233.10 L110.71,233.08 L111.11,233.06 L111.51,233.03 L111.91,233.01 L112.31,232.99 L112.71,232.96 L113.10,232.93 L113.50,232.91 L113.90,232.88 L114.30,232.85 L114.70,232.82 L115.10,232.78 L115.49,232.75 L115.89,232.71 L116.29,232.68 L116.69,232.64 L117.09,232.60 L117.49,232.56 L117.88,232.51 L118.28,232.47 L118.68,232.42 L119.08,232.37 L119.48,232.32 L119.87,232.27 L120.27,232.21 L120.67,232.15 L121.07,232.09 L121.47,232.03 L121.87,231.97 L122.26,231.90 L122.66,231.83 L123.06,231.75 L123.46,231.68 L123.86,231.60 L124.25,231.51 L124.65,231.43 L125.05,231.34 L125.45,231.24 L125.85,231.14 L126.24,231.04 L126.64,230.93 L127.04,230.82 L127.44,230.71 L127.83,230.59 L128.23,230.46 L128.63,230.33 L129.03,230.19 L129.43,230.05 L129.82,229.91 L130.22,229.75 L130.62,229.59 L131.02,229.42 L131.41,229.25 L131.81,229.07 L132.21,228.88 L132.61,228.68 L133.00,228.48 L133.40,228.27 L133.80,228.04 L134.19,227.81 L134.59,227.57 L134.99,227.32 L135.39,227.06 L135.78,226.79 L136.18,226.50 L136.58,226.21 L136.97,225.90 L137.37,225.58 L137.77,225.25 L138.16,224.90 L138.56,224.54 L138.95,224.16 L139.35,223.76 L139.75,223.36 L140.14,222.93 L140.54,222.48 L140.93,222.02 L141.33,221.54 L141.73,221.04 L142.12,220.51 L142.52,219.97 L142.91,219.40 L143.31,218.81 L143.70,218.19 L144.10,217.55 L144.49,216.89 L144.88,216.19 L145.28,215.46 L145.67,214.71 L146.07,213.92 L146.46,213.10 L146.85,212.25 L147.25,211.36 L147.64,210.44 L148.03,209.47 L148.42,208.47 L148.82,207.42 L149.21,206.33 L149.60,205.19 L149.99,204.01 L150.38,202.78 L150.77,201.50 L151.16,200.16 L151.55,198.77 L151.94,197.32 L152.33,195.81 L152.72,194.23 L153.11,192.59 L153.50,190.89 L153.89,189.11 L154.27,187.26 L154.66,185.33 L155.05,183.32 L155.43,181.22 L155.82,179.04 L156.20,176.77 L156.59,174.40 L156.97,171.94 L157.35,169.37 L157.74,166.70 L158.12,163.91 L158.50,161.01 L158.88,157.99 L159.26,154.84 L159.64,151.56 L160.02,148.15 L160.39,144.59 L160.77,140.88 L161.14,137.02 L161.52,133.00" fill="none" stroke="#f2f" stroke-width="1.15" stroke-linejoin="round" />
<rect x="34.00" y="133.00" width="129.00" height="100.80" fill="none" stroke="#555" stroke-width="1.20"/>
<line x1="34.0" y1="233.5" x2="90" y2="233.5" stroke="#3c1a48" stroke-width="1.4"/>
<line x1="32.40" y1="233.30" x2="34.00" y2="233.30" stroke="#555" stroke-width="1"/>
<text x="30.40" y="236.10" font-size="9.65" text-anchor="end" font-weight="normal" fill="#222" stroke="#222" stroke-width="0.18" textLength="5.06" lengthAdjust="spacingAndGlyphs">0</text>
<line x1="32.40" y1="210.17" x2="34.00" y2="210.17" stroke="#555" stroke-width="1"/>
<text x="30.40" y="212.97" font-size="9.65" text-anchor="end" font-weight="normal" fill="#222" stroke="#222" stroke-width="0.18" textLength="10.12" lengthAdjust="spacingAndGlyphs">15</text>
<line x1="32.40" y1="187.05" x2="34.00" y2="187.05" stroke="#555" stroke-width="1"/>
<text x="30.40" y="189.85" font-size="9.65" text-anchor="end" font-weight="normal" fill="#222" stroke="#222" stroke-width="0.18" textLength="10.12" lengthAdjust="spacingAndGlyphs">30</text>
<line x1="32.40" y1="163.92" x2="34.00" y2="163.92" stroke="#555" stroke-width="1"/>
<text x="30.40" y="166.72" font-size="9.65" text-anchor="end" font-weight="normal" fill="#222" stroke="#222" stroke-width="0.18" textLength="10.12" lengthAdjust="spacingAndGlyphs">45</text>
<line x1="32.40" y1="140.80" x2="34.00" y2="140.80" stroke="#555" stroke-width="1"/>
<text x="30.40" y="143.60" font-size="9.65" text-anchor="end" font-weight="normal" fill="#222" stroke="#222" stroke-width="0.18" textLength="10.12" lengthAdjust="spacingAndGlyphs">60</text>
<line x1="34.00" y1="221.74" x2="35.20" y2="221.74" stroke="#555" stroke-width="1"/>
<line x1="34.00" y1="198.61" x2="35.20" y2="198.61" stroke="#555" stroke-width="1"/>
<line x1="34.00" y1="175.49" x2="35.20" y2="175.49" stroke="#555" stroke-width="1"/>
<line x1="34.00" y1="152.36" x2="35.20" y2="152.36" stroke="#555" stroke-width="1"/>
<line x1="34.00" y1="233.80" x2="34.00" y2="235.40" stroke="#555" stroke-width="1"/>
<text x="34.00" y="245.15" font-size="9.65" text-anchor="middle" font-weight="normal" fill="#222" stroke="#222" stroke-width="0.18" textLength="12.65" lengthAdjust="spacingAndGlyphs">0.2</text>
<line x1="59.80" y1="233.80" x2="59.80" y2="235.40" stroke="#555" stroke-width="1"/>
<text x="59.80" y="245.15" font-size="9.65" text-anchor="middle" font-weight="normal" fill="#222" stroke="#222" stroke-width="0.18" textLength="12.65" lengthAdjust="spacingAndGlyphs">0.4</text>
<line x1="85.60" y1="233.80" x2="85.60" y2="235.40" stroke="#555" stroke-width="1"/>
<text x="85.60" y="245.15" font-size="9.65" text-anchor="middle" font-weight="normal" fill="#222" stroke="#222" stroke-width="0.18" textLength="12.65" lengthAdjust="spacingAndGlyphs">0.6</text>
<line x1="111.40" y1="233.80" x2="111.40" y2="235.40" stroke="#555" stroke-width="1"/>
<text x="111.40" y="245.15" font-size="9.65" text-anchor="middle" font-weight="normal" fill="#222" stroke="#222" stroke-width="0.18" textLength="12.65" lengthAdjust="spacingAndGlyphs">0.8</text>
<line x1="137.20" y1="233.80" x2="137.20" y2="235.40" stroke="#555" stroke-width="1"/>
<text x="137.20" y="245.15" font-size="9.65" text-anchor="middle" font-weight="normal" fill="#222" stroke="#222" stroke-width="0.18" textLength="12.65" lengthAdjust="spacingAndGlyphs">1.0</text>
<line x1="163.00" y1="233.80" x2="163.00" y2="235.40" stroke="#555" stroke-width="1"/>
<text x="163.00" y="245.15" font-size="9.65" text-anchor="middle" font-weight="normal" fill="#222" stroke="#222" stroke-width="0.18" textLength="12.65" lengthAdjust="spacingAndGlyphs">1.2</text>
<line x1="39" y1="140.20" x2="54.8" y2="140.20" stroke="#444" stroke-width="1.2"/>
<text x="57.80" y="141.50" font-size="7.30" text-anchor="start" font-weight="normal" fill="#222" stroke="#222" stroke-width="0.12" textLength="36.8" lengthAdjust="spacingAndGlyphs"><tspan font-style="italic">m</tspan>CeO<tspan dy="1.9" font-size="4.6">2</tspan><tspan dy="-1.9">-400</tspan></text>
<line x1="39" y1="151.15" x2="54.8" y2="151.15" stroke="#f44" stroke-width="1.2"/>
<text x="57.80" y="152.45" font-size="7.30" text-anchor="start" font-weight="normal" fill="#222" stroke="#222" stroke-width="0.12" textLength="36.8" lengthAdjust="spacingAndGlyphs"><tspan font-style="italic">m</tspan>CeO<tspan dy="1.9" font-size="4.6">2</tspan><tspan dy="-1.9">-600</tspan></text>
<line x1="39" y1="162.10" x2="54.8" y2="162.10" stroke="#44f" stroke-width="1.2"/>
<text x="57.80" y="163.40" font-size="7.30" text-anchor="start" font-weight="normal" fill="#222" stroke="#222" stroke-width="0.12" textLength="36.8" lengthAdjust="spacingAndGlyphs"><tspan font-style="italic">m</tspan>CeO<tspan dy="1.9" font-size="4.6">2</tspan><tspan dy="-1.9">-800</tspan></text>
<line x1="39" y1="173.05" x2="54.8" y2="173.05" stroke="#f6f" stroke-width="1.2"/>
<text x="57.80" y="174.35" font-size="7.30" text-anchor="start" font-weight="normal" fill="#222" stroke="#222" stroke-width="0.12" textLength="36.8" lengthAdjust="spacingAndGlyphs"><tspan font-style="italic">m</tspan>CeO<tspan dy="1.9" font-size="4.6">2</tspan><tspan dy="-1.9">-900</tspan></text>
<text transform="translate(14.60,211.80) rotate(-90)" x="0" y="0" font-size="10.00" font-weight="bold" fill="#000" stroke="#000" stroke-width="0.2" textLength="52.9" lengthAdjust="spacingAndGlyphs"><tspan font-style="italic">J</tspan><tspan dx="2.6">(mA/cm</tspan><tspan dy="-4.6" font-size="6.8">2</tspan><tspan dy="4.6">)</tspan></text>
<text x="50.00" y="255.60" font-size="10.00" font-weight="bold" fill="#000" stroke="#000" stroke-width="0.2" textLength="96.0" lengthAdjust="spacingAndGlyphs">Potential (V vs. RHE)</text>
<text x="0.60" y="125.70" font-size="10.30" text-anchor="start" font-weight="bold" fill="#000" stroke="#000" stroke-width="0.2">(c)</text>
<polyline points="220.50,211.90 238.80,205.60 257.40,199.60 276.00,154.00 294.20,192.60 312.80,221.80" fill="none" stroke="#333" stroke-width="1"/>
<polygon points="220.50,208.84 224.28,214.42 216.72,214.42" fill="#fff" stroke="#fff" stroke-width="3.5"/>
<polygon points="238.80,202.54 242.58,208.12 235.02,208.12" fill="#fff" stroke="#fff" stroke-width="3.5"/>
<polygon points="257.40,196.54 261.18,202.12 253.62,202.12" fill="#fff" stroke="#fff" stroke-width="3.5"/>
<polygon points="276.00,150.94 279.78,156.52 272.22,156.52" fill="#fff" stroke="#fff" stroke-width="3.5"/>
<polygon points="294.20,189.54 297.98,195.12 290.42,195.12" fill="#fff" stroke="#fff" stroke-width="3.5"/>
<polygon points="312.80,218.74 316.58,224.32 309.02,224.32" fill="#fff" stroke="#fff" stroke-width="3.5"/>
<polygon points="220.50,208.84 224.28,214.42 216.72,214.42" fill="#fff" stroke="#111" stroke-width="1.0"/>
<polygon points="238.80,202.54 242.58,208.12 235.02,208.12" fill="#fff" stroke="#111" stroke-width="1.0"/>
<polygon points="257.40,196.54 261.18,202.12 253.62,202.12" fill="#fff" stroke="#111" stroke-width="1.0"/>
<polygon points="276.00,150.94 279.78,156.52 272.22,156.52" fill="#fff" stroke="#111" stroke-width="1.0"/>
<polygon points="294.20,189.54 297.98,195.12 290.42,195.12" fill="#fff" stroke="#111" stroke-width="1.0"/>
<polygon points="312.80,218.74 316.58,224.32 309.02,224.32" fill="#fff" stroke="#111" stroke-width="1.0"/>
<rect x="201.90" y="134.40" width="129.90" height="101.30" fill="none" stroke="#555" stroke-width="1.20"/>
<line x1="200.30" y1="235.70" x2="201.90" y2="235.70" stroke="#555" stroke-width="1"/>
<text x="198.30" y="238.95" font-size="9.65" text-anchor="end" font-weight="normal" fill="#222" stroke="#222" stroke-width="0.18" textLength="5.06" lengthAdjust="spacingAndGlyphs">0</text>
<line x1="200.30" y1="210.38" x2="201.90" y2="210.38" stroke="#555" stroke-width="1"/>
<text x="198.30" y="213.62" font-size="9.65" text-anchor="end" font-weight="normal" fill="#222" stroke="#222" stroke-width="0.18" textLength="10.12" lengthAdjust="spacingAndGlyphs">10</text>
<line x1="200.30" y1="185.05" x2="201.90" y2="185.05" stroke="#555" stroke-width="1"/>
<text x="198.30" y="188.30" font-size="9.65" text-anchor="end" font-weight="normal" fill="#222" stroke="#222" stroke-width="0.18" textLength="10.12" lengthAdjust="spacingAndGlyphs">20</text>
<line x1="200.30" y1="159.72" x2="201.90" y2="159.72" stroke="#555" stroke-width="1"/>
<text x="198.30" y="162.97" font-size="9.65" text-anchor="end" font-weight="normal" fill="#222" stroke="#222" stroke-width="0.18" textLength="10.12" lengthAdjust="spacingAndGlyphs">30</text>
<line x1="200.30" y1="134.40" x2="201.90" y2="134.40" stroke="#555" stroke-width="1"/>
<text x="198.30" y="137.65" font-size="9.65" text-anchor="end" font-weight="normal" fill="#222" stroke="#222" stroke-width="0.18" textLength="10.12" lengthAdjust="spacingAndGlyphs">40</text>
<line x1="201.90" y1="223.04" x2="203.10" y2="223.04" stroke="#555" stroke-width="1"/>
<line x1="201.90" y1="197.71" x2="203.10" y2="197.71" stroke="#555" stroke-width="1"/>
<line x1="201.90" y1="172.39" x2="203.10" y2="172.39" stroke="#555" stroke-width="1"/>
<line x1="201.90" y1="147.06" x2="203.10" y2="147.06" stroke="#555" stroke-width="1"/>
<line x1="239.01" y1="235.70" x2="239.01" y2="234.50" stroke="#555" stroke-width="1"/>
<line x1="276.13" y1="235.70" x2="276.13" y2="234.50" stroke="#555" stroke-width="1"/>
<line x1="313.24" y1="235.70" x2="313.24" y2="234.50" stroke="#555" stroke-width="1"/>
<line x1="220.46" y1="235.70" x2="220.46" y2="237.30" stroke="#555" stroke-width="1"/>
<text x="220.46" y="246.05" font-size="9.65" text-anchor="middle" font-weight="normal" fill="#222" stroke="#222" stroke-width="0.18" textLength="15.18" lengthAdjust="spacingAndGlyphs">400</text>
<line x1="257.57" y1="235.70" x2="257.57" y2="237.30" stroke="#555" stroke-width="1"/>
<text x="257.57" y="246.05" font-size="9.65" text-anchor="middle" font-weight="normal" fill="#222" stroke="#222" stroke-width="0.18" textLength="15.18" lengthAdjust="spacingAndGlyphs">600</text>
<line x1="294.69" y1="235.70" x2="294.69" y2="237.30" stroke="#555" stroke-width="1"/>
<text x="294.69" y="246.05" font-size="9.65" text-anchor="middle" font-weight="normal" fill="#222" stroke="#222" stroke-width="0.18" textLength="15.18" lengthAdjust="spacingAndGlyphs">800</text>
<line x1="331.80" y1="235.70" x2="331.80" y2="237.30" stroke="#555" stroke-width="1"/>
<text x="331.80" y="246.05" font-size="9.65" text-anchor="middle" font-weight="normal" fill="#222" stroke="#222" stroke-width="0.18" textLength="20.24" lengthAdjust="spacingAndGlyphs">1000</text>
<text x="205.60" y="144.80" font-size="8.40" text-anchor="start" font-weight="normal" fill="#1a1a1a" stroke="#1a1a1a" stroke-width="0.2" textLength="63.0" lengthAdjust="spacingAndGlyphs">@ 1.0 V vs. RHE</text>
<text transform="translate(184.00,209.20) rotate(-90)" x="0" y="0" font-size="10.00" font-weight="bold" fill="#000" stroke="#000" stroke-width="0.2" textLength="49.6" lengthAdjust="spacingAndGlyphs"><tspan font-style="italic">J</tspan><tspan dx="2.6">(mA/cm</tspan><tspan dy="-4.6" font-size="6.8">2</tspan><tspan dy="4.6">)</tspan></text>
<text x="223.30" y="256.30" font-size="10.20" font-weight="bold" fill="#000" stroke="#000" stroke-width="0.2" textLength="80.2" lengthAdjust="spacingAndGlyphs">Temperature (°C)</text>
<text x="173.30" y="125.50" font-size="10.30" text-anchor="start" font-weight="bold" fill="#000" stroke="#000" stroke-width="0.2">(d)</text>
<polyline points="52.10,302.30 71.00,307.20 89.60,311.10 108.20,323.00 127.10,313.90 145.70,293.20" fill="none" stroke="#333" stroke-width="1"/>
<polygon points="52.10,299.24 55.88,304.82 48.32,304.82" fill="#fff" stroke="#fff" stroke-width="3.5"/>
<polygon points="71.00,304.14 74.78,309.72 67.22,309.72" fill="#fff" stroke="#fff" stroke-width="3.5"/>
<polygon points="89.60,308.04 93.38,313.62 85.82,313.62" fill="#fff" stroke="#fff" stroke-width="3.5"/>
<polygon points="108.20,319.94 111.98,325.52 104.42,325.52" fill="#fff" stroke="#fff" stroke-width="3.5"/>
<polygon points="127.10,310.84 130.88,316.42 123.32,316.42" fill="#fff" stroke="#fff" stroke-width="3.5"/>
<polygon points="145.70,290.14 149.48,295.72 141.92,295.72" fill="#fff" stroke="#fff" stroke-width="3.5"/>
<polygon points="52.10,299.24 55.88,304.82 48.32,304.82" fill="#fff" stroke="#111" stroke-width="1.0"/>
<polygon points="71.00,304.14 74.78,309.72 67.22,309.72" fill="#fff" stroke="#111" stroke-width="1.0"/>
<polygon points="89.60,308.04 93.38,313.62 85.82,313.62" fill="#fff" stroke="#111" stroke-width="1.0"/>
<polygon points="108.20,319.94 111.98,325.52 104.42,325.52" fill="#fff" stroke="#111" stroke-width="1.0"/>
<polygon points="127.10,310.84 130.88,316.42 123.32,316.42" fill="#fff" stroke="#111" stroke-width="1.0"/>
<polygon points="145.70,290.14 149.48,295.72 141.92,295.72" fill="#fff" stroke="#111" stroke-width="1.0"/>
<rect x="32.80" y="261.80" width="131.20" height="102.40" fill="none" stroke="#555" stroke-width="1.20"/>
<line x1="31.20" y1="364.20" x2="32.80" y2="364.20" stroke="#555" stroke-width="1"/>
<text x="29.70" y="366.70" font-size="9.65" text-anchor="end" font-weight="normal" fill="#222" stroke="#222" stroke-width="0.18" textLength="12.65" lengthAdjust="spacingAndGlyphs">0.8</text>
<line x1="31.20" y1="338.60" x2="32.80" y2="338.60" stroke="#555" stroke-width="1"/>
<text x="29.70" y="341.10" font-size="9.65" text-anchor="end" font-weight="normal" fill="#222" stroke="#222" stroke-width="0.18" textLength="12.65" lengthAdjust="spacingAndGlyphs">0.9</text>
<line x1="31.20" y1="313.00" x2="32.80" y2="313.00" stroke="#555" stroke-width="1"/>
<text x="29.70" y="315.50" font-size="9.65" text-anchor="end" font-weight="normal" fill="#222" stroke="#222" stroke-width="0.18" textLength="12.65" lengthAdjust="spacingAndGlyphs">1.0</text>
<line x1="31.20" y1="287.40" x2="32.80" y2="287.40" stroke="#555" stroke-width="1"/>
<text x="29.70" y="289.90" font-size="9.65" text-anchor="end" font-weight="normal" fill="#222" stroke="#222" stroke-width="0.18" textLength="12.65" lengthAdjust="spacingAndGlyphs">1.1</text>
<line x1="31.20" y1="261.80" x2="32.80" y2="261.80" stroke="#555" stroke-width="1"/>
<text x="29.70" y="264.30" font-size="9.65" text-anchor="end" font-weight="normal" fill="#222" stroke="#222" stroke-width="0.18" textLength="12.65" lengthAdjust="spacingAndGlyphs">1.2</text>
<line x1="32.80" y1="351.40" x2="34.00" y2="351.40" stroke="#555" stroke-width="1"/>
<line x1="32.80" y1="325.80" x2="34.00" y2="325.80" stroke="#555" stroke-width="1"/>
<line x1="32.80" y1="300.20" x2="34.00" y2="300.20" stroke="#555" stroke-width="1"/>
<line x1="32.80" y1="274.60" x2="34.00" y2="274.60" stroke="#555" stroke-width="1"/>
<line x1="70.29" y1="364.20" x2="70.29" y2="363.00" stroke="#555" stroke-width="1"/>
<line x1="107.77" y1="364.20" x2="107.77" y2="363.00" stroke="#555" stroke-width="1"/>
<line x1="145.26" y1="364.20" x2="145.26" y2="363.00" stroke="#555" stroke-width="1"/>
<line x1="51.54" y1="364.20" x2="51.54" y2="365.80" stroke="#555" stroke-width="1"/>
<text x="51.54" y="374.45" font-size="9.65" text-anchor="middle" font-weight="normal" fill="#222" stroke="#222" stroke-width="0.18" textLength="15.18" lengthAdjust="spacingAndGlyphs">400</text>
<line x1="89.03" y1="364.20" x2="89.03" y2="365.80" stroke="#555" stroke-width="1"/>
<text x="89.03" y="374.45" font-size="9.65" text-anchor="middle" font-weight="normal" fill="#222" stroke="#222" stroke-width="0.18" textLength="15.18" lengthAdjust="spacingAndGlyphs">600</text>
<line x1="126.51" y1="364.20" x2="126.51" y2="365.80" stroke="#555" stroke-width="1"/>
<text x="126.51" y="374.45" font-size="9.65" text-anchor="middle" font-weight="normal" fill="#222" stroke="#222" stroke-width="0.18" textLength="15.18" lengthAdjust="spacingAndGlyphs">800</text>
<line x1="164.00" y1="364.20" x2="164.00" y2="365.80" stroke="#555" stroke-width="1"/>
<text x="164.00" y="374.45" font-size="9.65" text-anchor="middle" font-weight="normal" fill="#222" stroke="#222" stroke-width="0.18" textLength="20.24" lengthAdjust="spacingAndGlyphs">1000</text>
<text x="38.30" y="274.80" font-size="8.40" text-anchor="start" font-weight="normal" fill="#1a1a1a" stroke="#1a1a1a" stroke-width="0.2" textLength="62.8" lengthAdjust="spacingAndGlyphs">@<tspan font-style="italic">J</tspan> = 15 mA/cm<tspan dy="-3.2" font-size="5.3">2</tspan></text>
<text transform="translate(13.20,370.90) rotate(-90)" x="0" y="0" font-size="10.00" font-weight="bold" fill="#000" stroke="#000" stroke-width="0.2" textLength="97.6" lengthAdjust="spacingAndGlyphs">Potential (V vs. RHE)</text>
<text x="55.20" y="385.90" font-size="10.20" font-weight="bold" fill="#000" stroke="#000" stroke-width="0.2" textLength="80.2" lengthAdjust="spacingAndGlyphs">Temperature (°C)</text>
<text x="0.50" y="253.20" font-size="10.50" text-anchor="start" font-weight="bold" fill="#000" stroke="#000" stroke-width="0.2">(e)</text>
</svg>
</body></html>
